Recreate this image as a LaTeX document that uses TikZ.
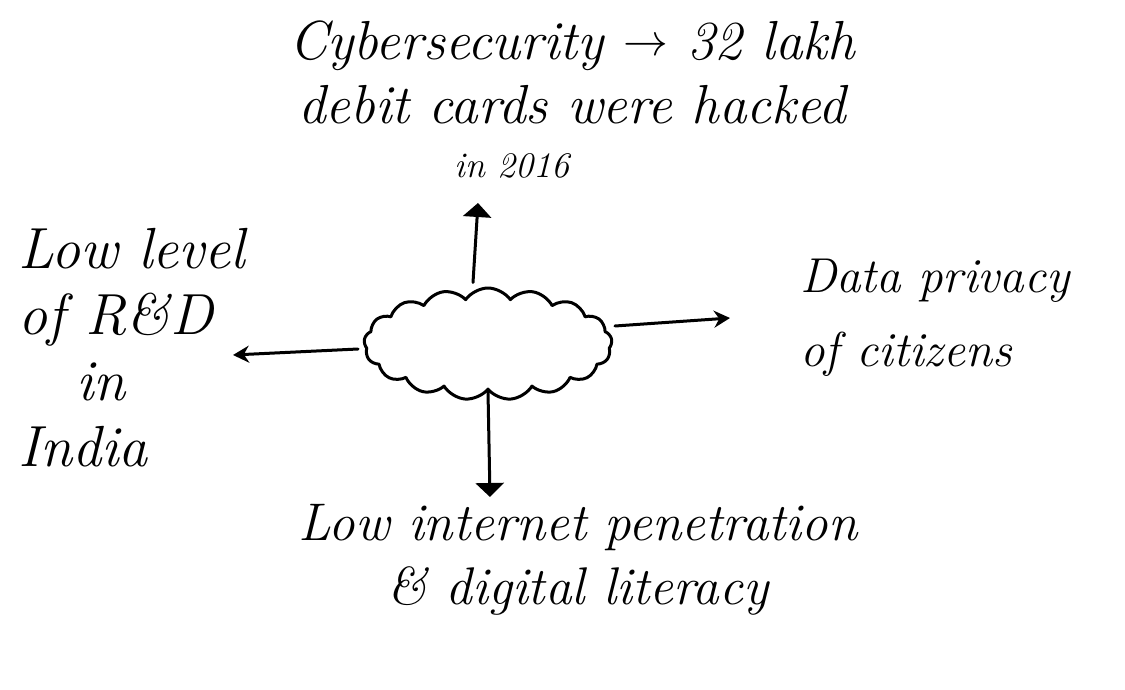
\documentclass[tikz,border=0pt]{standalone}
\usetikzlibrary{shapes.symbols,arrows.meta}
\begin{document}
\begin{tikzpicture}[x=1pt,y=-1pt,
  ink/.style={line width=3pt,line cap=round,line join=round},
  note/.style={align=center,inner sep=0pt},
  bigtip/.style={-{Triangle[length=14pt,width=28pt]}},
  smalltip/.style={-{Stealth[length=16pt,width=17pt]}}]
\useasboundingbox (0,0) rectangle (1125,690);
% central cloud
\node[ink,draw,cloud,cloud puffs=17,cloud puff arc=110,aspect=2.3,
      minimum width=248pt,minimum height=112pt,inner sep=0pt] (cl) at (488,344) {};
% surrounding notes
\node[note,font=\fontsize{55}{64}\selectfont\itshape] (top) at (572,100)
  {Cybersecurity \raisebox{4pt}{\scalebox{1.8}{$\rightarrow$}} 32 lakh\\debit cards were hacked\\[-10pt]{\fontsize{36}{40}\selectfont in 2016\hspace*{120pt}}};
\node[note,align=left,font=\fontsize{58}{66}\selectfont\itshape] (left) at (132,348)
  {Low level\\of R\&D\\\quad in\\India};
\node[note,align=left,font=\fontsize{49}{74}\selectfont\itshape] (right) at (935,318)
  {Data privacy\\of citizens};
\node[note,font=\fontsize{53}{64}\selectfont\itshape] (bottom) at (578,560)
  {Low internet penetration\\\& digital literacy};
% arrow ends
\coordinate (tu) at (478,203);
\coordinate (tl) at (233,355);
\coordinate (tr) at (730,318);
\coordinate (td) at (490,497);
\draw[ink,bigtip] (cl.north) ++(-15,-4) -- (tu);
\draw[ink,smalltip] (cl.west) ++(-5,5) -- (tl);
\draw[ink,smalltip] (cl.east) ++(2,-18) -- (tr);
\draw[ink,bigtip] (cl.south) -- (td);
\end{tikzpicture}
\end{document}
